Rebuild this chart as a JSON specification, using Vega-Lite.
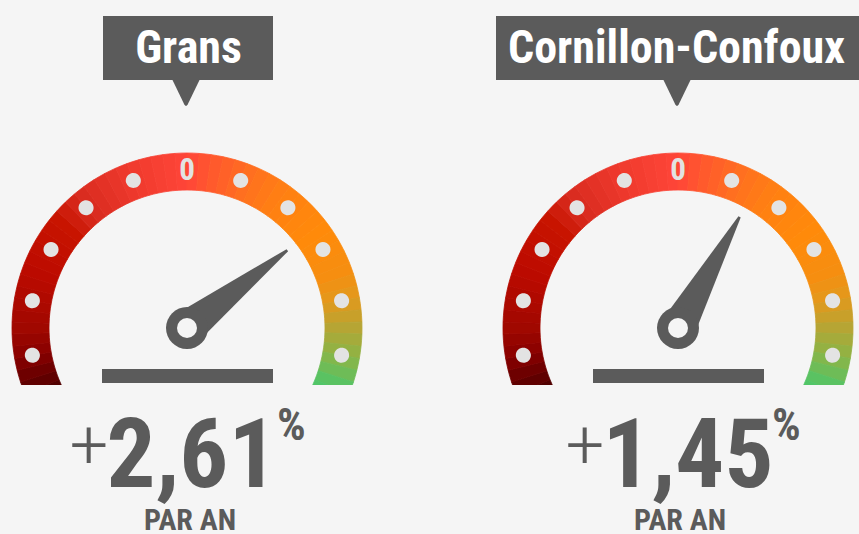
{
  "$schema": "https://vega.github.io/schema/vega-lite/v6.json",
  "padding": 0,
  "bounds": "flush",
  "background": "#f5f5f5",
  "spacing": 127,
  "datasets": {
    "gauges": [
      {"city": "Grans", "value": 2.61},
      {"city": "Cornillon-Confoux", "value": 1.45}
    ],
    "ticks": [
      {"t": -5}, {"t": -4}, {"t": -3}, {"t": -2}, {"t": -1}, {"t": 0},
      {"t": 1}, {"t": 2}, {"t": 3}, {"t": 4}, {"t": 5}
    ],
    "seg": [
      {"a": -5.8, "b": -5.6}, {"a": -5.6, "b": -5.4}, {"a": -5.4, "b": -5.2}, {"a": -5.2, "b": -5.0},
      {"a": -5.0, "b": -4.8}, {"a": -4.8, "b": -4.6}, {"a": -4.6, "b": -4.4}, {"a": -4.4, "b": -4.2},
      {"a": -4.2, "b": -4.0}, {"a": -4.0, "b": -3.8}, {"a": -3.8, "b": -3.6}, {"a": -3.6, "b": -3.4},
      {"a": -3.4, "b": -3.2}, {"a": -3.2, "b": -3.0}, {"a": -3.0, "b": -2.8}, {"a": -2.8, "b": -2.6},
      {"a": -2.6, "b": -2.4}, {"a": -2.4, "b": -2.2}, {"a": -2.2, "b": -2.0}, {"a": -2.0, "b": -1.8},
      {"a": -1.8, "b": -1.6}, {"a": -1.6, "b": -1.4}, {"a": -1.4, "b": -1.2}, {"a": -1.2, "b": -1.0},
      {"a": -1.0, "b": -0.8}, {"a": -0.8, "b": -0.6}, {"a": -0.6, "b": -0.4}, {"a": -0.4, "b": -0.2},
      {"a": -0.2, "b": 0.0}, {"a": 0.0, "b": 0.2}, {"a": 0.2, "b": 0.4}, {"a": 0.4, "b": 0.6},
      {"a": 0.6, "b": 0.8}, {"a": 0.8, "b": 1.0}, {"a": 1.0, "b": 1.2}, {"a": 1.2, "b": 1.4},
      {"a": 1.4, "b": 1.6}, {"a": 1.6, "b": 1.8}, {"a": 1.8, "b": 2.0}, {"a": 2.0, "b": 2.2},
      {"a": 2.2, "b": 2.4}, {"a": 2.4, "b": 2.6}, {"a": 2.6, "b": 2.8}, {"a": 2.8, "b": 3.0},
      {"a": 3.0, "b": 3.2}, {"a": 3.2, "b": 3.4}, {"a": 3.4, "b": 3.6}, {"a": 3.6, "b": 3.8},
      {"a": 3.8, "b": 4.0}, {"a": 4.0, "b": 4.2}, {"a": 4.2, "b": 4.4}, {"a": 4.4, "b": 4.6},
      {"a": 4.6, "b": 4.8}, {"a": 4.8, "b": 5.0}, {"a": 5.0, "b": 5.2}, {"a": 5.2, "b": 5.4},
      {"a": 5.4, "b": 5.6}, {"a": 5.6, "b": 5.8}
    ]
  },
  "hconcat": [
    {
      "width": 364, "height": 534,
      "data": {"name": "gauges"},
      "transform": [{"filter": "datum.city === 'Grans'"}],
      "layer": [
        {
          "data": {"name": "seg"},
          "mark": {"type": "arc", "outerRadius": 175, "innerRadius": 138, "strokeWidth": 0.8},
          "encoding": {
            "x": {"datum": 0, "type": "quantitative", "scale": {"domain": [-187, 177], "nice": false, "zero": false}},
            "y": {"datum": 0, "type": "quantitative", "scale": {"domain": [-328, 206], "nice": false, "zero": false, "reverse": true}},
            "theta": {"field": "a", "type": "quantitative", "stack": null, "scale": {"domain": [-9, 9], "range": [-3.14159265, 3.14159265], "nice": false, "zero": false}},
            "theta2": {"field": "b"},
            "color": {"field": "a", "type": "quantitative", "legend": null, "scale": {"domain": [-5.9, -5.5, -5.1, -4.6, -3.6, -2.6, -2.1, -1.1, -0.1, 0.4, 0.9, 1.7, 2.6, 3.4, 3.9, 4.4, 4.9, 5.4, 5.8], "range": ["#4a0000", "#660000", "#880000", "#a00800", "#bb0a00", "#c81400", "#d82a1e", "#ef3a2d", "#ff4538", "#ff5a2c", "#ff6c22", "#ff8012", "#ff8a0a", "#f68e10", "#e2991c", "#b6a534", "#8cb446", "#5ac262", "#48c86c"], "interpolate": "rgb"}},
            "stroke": {"field": "a", "type": "quantitative", "legend": null, "scale": {"domain": [-5.9, -5.5, -5.1, -4.6, -3.6, -2.6, -2.1, -1.1, -0.1, 0.4, 0.9, 1.7, 2.6, 3.4, 3.9, 4.4, 4.9, 5.4, 5.8], "range": ["#4a0000", "#660000", "#880000", "#a00800", "#bb0a00", "#c81400", "#d82a1e", "#ef3a2d", "#ff4538", "#ff5a2c", "#ff6c22", "#ff8012", "#ff8a0a", "#f68e10", "#e2991c", "#b6a534", "#8cb446", "#5ac262", "#48c86c"], "interpolate": "rgb"}}
          }
        },
        {
          "mark": {"type": "rect", "color": "#f5f5f5"},
          "encoding": {
            "x": {"datum": -180, "type": "quantitative"}, "x2": {"datum": 180},
            "y": {"datum": 57, "type": "quantitative"}, "y2": {"datum": 80}
          }
        },
        {
          "data": {"name": "ticks"},
          "transform": [{"filter": "datum.t !== 0"}],
          "mark": {"type": "point", "filled": true, "opacity": 1, "color": "#e3e3e3", "size": 98596,
                   "shape": "M -0.048 -1 A 0.048 0.048 0 1 0 0.048 -1 A 0.048 0.048 0 1 0 -0.048 -1 Z"},
          "encoding": {
            "x": {"datum": 0, "type": "quantitative"},
            "y": {"datum": 0, "type": "quantitative"},
            "angle": {"field": "t", "type": "quantitative", "legend": null, "scale": {"domain": [-9, 9], "range": [-180, 180], "zero": false, "nice": false}}
          }
        },
        {
          "data": {"name": "ticks"},
          "transform": [{"filter": "datum.t === 0"}],
          "mark": {"type": "text", "radius": 157, "fontSize": 31, "fontWeight": "bold", "color": "#e2e2e2", "align": "center", "baseline": "middle",
                   "font": "Roboto Condensed, Roboto, sans-serif"},
          "encoding": {
            "x": {"datum": 0, "type": "quantitative"},
            "y": {"datum": 0, "type": "quantitative"},
            "theta": {"field": "t", "type": "quantitative", "stack": null},
            "text": {"field": "t", "type": "quantitative"}
          }
        },
        {
          "mark": {"type": "rect", "color": "#5b5b5b"},
          "encoding": {
            "x": {"datum": -85, "type": "quantitative"}, "x2": {"datum": 86},
            "y": {"datum": 41, "type": "quantitative"}, "y2": {"datum": 55}
          }
        },
        {
          "mark": {"type": "rect", "color": "#5b5b5b"},
          "encoding": {
            "x": {"datum": -84, "type": "quantitative"}, "x2": {"datum": 86},
            "y": {"datum": -312, "type": "quantitative"}, "y2": {"datum": -248}
          }
        },
        {
          "mark": {"type": "point", "filled": true, "opacity": 1, "color": "#5b5b5b", "size": 784,
                   "shape": "M -1 -1 L 1 -1 L 0.12 0.82 Q 0 1.02 -0.12 0.82 Z"},
          "encoding": {
            "x": {"datum": -1, "type": "quantitative"},
            "y": {"datum": -235, "type": "quantitative"}
          }
        },
        {
          "mark": {"type": "text", "fontSize": 46, "fontWeight": "bold", "color": "#ffffff", "align": "center", "baseline": "alphabetic",
                   "font": "Roboto Condensed, Roboto, sans-serif"},
          "encoding": {
            "x": {"datum": 1.5, "type": "quantitative"},
            "y": {"datum": -265, "type": "quantitative"},
            "text": {"field": "city", "type": "nominal"}
          }
        },
        {
          "mark": {"type": "point", "filled": true, "opacity": 1, "color": "#5b5b5b", "size": 64516,
                   "shape": "M -0.14 0 L -0.01 -1 L 0.01 -1 L 0.14 0 Z"},
          "encoding": {
            "x": {"datum": 0, "type": "quantitative"},
            "y": {"datum": 0, "type": "quantitative"},
            "angle": {"field": "value", "type": "quantitative", "legend": null}
          }
        },
        {
          "mark": {"type": "point", "filled": true, "opacity": 1, "color": "#5b5b5b", "size": 1764, "shape": "circle"},
          "encoding": {"x": {"datum": 0, "type": "quantitative"}, "y": {"datum": 0, "type": "quantitative"}}
        },
        {
          "mark": {"type": "point", "filled": true, "opacity": 1, "color": "#f5f5f5", "size": 400, "shape": "circle"},
          "encoding": {"x": {"datum": 0, "type": "quantitative"}, "y": {"datum": 0, "type": "quantitative"}}
        },
        {
          "mark": {"type": "text", "text": "+", "fontSize": 68, "fontWeight": 300, "color": "#5b5b5b", "align": "center", "baseline": "alphabetic",
                   "font": "Roboto, sans-serif"},
          "encoding": {"x": {"datum": -98, "type": "quantitative"}, "y": {"datum": 140, "type": "quantitative"}}
        },
        {
          "mark": {"type": "text", "fontSize": 97, "fontWeight": "bold", "color": "#5b5b5b", "align": "center", "baseline": "alphabetic",
                   "font": "Roboto Condensed, Roboto, sans-serif"},
          "encoding": {
            "x": {"datum": 5, "type": "quantitative"}, "y": {"datum": 159, "type": "quantitative"},
            "text": {"field": "value", "type": "quantitative", "format": ".2f"}
          }
        },
        {
          "mark": {"type": "text", "text": "%", "fontSize": 45, "fontWeight": "bold", "color": "#5b5b5b", "align": "left", "baseline": "alphabetic",
                   "font": "Roboto Condensed, Roboto, sans-serif"},
          "encoding": {"x": {"datum": 90, "type": "quantitative"}, "y": {"datum": 112, "type": "quantitative"}}
        },
        {
          "mark": {"type": "text", "text": "PAR AN", "fontSize": 30, "fontWeight": "bold", "color": "#5b5b5b", "align": "center", "baseline": "alphabetic",
                   "font": "Roboto Condensed, Roboto, sans-serif"},
          "encoding": {"x": {"datum": 3, "type": "quantitative"}, "y": {"datum": 202, "type": "quantitative"}}
        }
      ]
    },
    {
      "width": 364, "height": 534,
      "data": {"name": "gauges"},
      "transform": [{"filter": "datum.city === 'Cornillon-Confoux'"}],
      "layer": [
        {
          "data": {"name": "seg"},
          "mark": {"type": "arc", "outerRadius": 175, "innerRadius": 138, "strokeWidth": 0.8},
          "encoding": {
            "x": {"datum": 0, "type": "quantitative", "scale": {"domain": [-187, 177], "nice": false, "zero": false}},
            "y": {"datum": 0, "type": "quantitative", "scale": {"domain": [-328, 206], "nice": false, "zero": false, "reverse": true}},
            "theta": {"field": "a", "type": "quantitative", "stack": null, "scale": {"domain": [-9, 9], "range": [-3.14159265, 3.14159265], "nice": false, "zero": false}},
            "theta2": {"field": "b"},
            "color": {"field": "a", "type": "quantitative", "legend": null, "scale": {"domain": [-5.9, -5.5, -5.1, -4.6, -3.6, -2.6, -2.1, -1.1, -0.1, 0.4, 0.9, 1.7, 2.6, 3.4, 3.9, 4.4, 4.9, 5.4, 5.8], "range": ["#4a0000", "#660000", "#880000", "#a00800", "#bb0a00", "#c81400", "#d82a1e", "#ef3a2d", "#ff4538", "#ff5a2c", "#ff6c22", "#ff8012", "#ff8a0a", "#f68e10", "#e2991c", "#b6a534", "#8cb446", "#5ac262", "#48c86c"], "interpolate": "rgb"}},
            "stroke": {"field": "a", "type": "quantitative", "legend": null, "scale": {"domain": [-5.9, -5.5, -5.1, -4.6, -3.6, -2.6, -2.1, -1.1, -0.1, 0.4, 0.9, 1.7, 2.6, 3.4, 3.9, 4.4, 4.9, 5.4, 5.8], "range": ["#4a0000", "#660000", "#880000", "#a00800", "#bb0a00", "#c81400", "#d82a1e", "#ef3a2d", "#ff4538", "#ff5a2c", "#ff6c22", "#ff8012", "#ff8a0a", "#f68e10", "#e2991c", "#b6a534", "#8cb446", "#5ac262", "#48c86c"], "interpolate": "rgb"}}
          }
        },
        {
          "mark": {"type": "rect", "color": "#f5f5f5"},
          "encoding": {
            "x": {"datum": -180, "type": "quantitative"}, "x2": {"datum": 180},
            "y": {"datum": 57, "type": "quantitative"}, "y2": {"datum": 80}
          }
        },
        {
          "data": {"name": "ticks"},
          "transform": [{"filter": "datum.t !== 0"}],
          "mark": {"type": "point", "filled": true, "opacity": 1, "color": "#e3e3e3", "size": 98596,
                   "shape": "M -0.048 -1 A 0.048 0.048 0 1 0 0.048 -1 A 0.048 0.048 0 1 0 -0.048 -1 Z"},
          "encoding": {
            "x": {"datum": 0, "type": "quantitative"},
            "y": {"datum": 0, "type": "quantitative"},
            "angle": {"field": "t", "type": "quantitative", "legend": null, "scale": {"domain": [-9, 9], "range": [-180, 180], "zero": false, "nice": false}}
          }
        },
        {
          "data": {"name": "ticks"},
          "transform": [{"filter": "datum.t === 0"}],
          "mark": {"type": "text", "radius": 157, "fontSize": 31, "fontWeight": "bold", "color": "#e2e2e2", "align": "center", "baseline": "middle",
                   "font": "Roboto Condensed, Roboto, sans-serif"},
          "encoding": {
            "x": {"datum": 0, "type": "quantitative"},
            "y": {"datum": 0, "type": "quantitative"},
            "theta": {"field": "t", "type": "quantitative", "stack": null},
            "text": {"field": "t", "type": "quantitative"}
          }
        },
        {
          "mark": {"type": "rect", "color": "#5b5b5b"},
          "encoding": {
            "x": {"datum": -85, "type": "quantitative"}, "x2": {"datum": 86},
            "y": {"datum": 41, "type": "quantitative"}, "y2": {"datum": 55}
          }
        },
        {
          "mark": {"type": "rect", "color": "#5b5b5b"},
          "encoding": {
            "x": {"datum": -182, "type": "quantitative"}, "x2": {"datum": 182},
            "y": {"datum": -312, "type": "quantitative"}, "y2": {"datum": -248}
          }
        },
        {
          "mark": {"type": "point", "filled": true, "opacity": 1, "color": "#5b5b5b", "size": 784,
                   "shape": "M -1 -1 L 1 -1 L 0.12 0.82 Q 0 1.02 -0.12 0.82 Z"},
          "encoding": {
            "x": {"datum": -1, "type": "quantitative"},
            "y": {"datum": -235, "type": "quantitative"}
          }
        },
        {
          "mark": {"type": "text", "fontSize": 46, "fontWeight": "bold", "color": "#ffffff", "align": "center", "baseline": "alphabetic",
                   "font": "Roboto Condensed, Roboto, sans-serif"},
          "encoding": {
            "x": {"datum": -1.5, "type": "quantitative"},
            "y": {"datum": -265, "type": "quantitative"},
            "text": {"field": "city", "type": "nominal"}
          }
        },
        {
          "mark": {"type": "point", "filled": true, "opacity": 1, "color": "#5b5b5b", "size": 64516,
                   "shape": "M -0.14 0 L -0.01 -1 L 0.01 -1 L 0.14 0 Z"},
          "encoding": {
            "x": {"datum": 0, "type": "quantitative"},
            "y": {"datum": 0, "type": "quantitative"},
            "angle": {"field": "value", "type": "quantitative", "legend": null}
          }
        },
        {
          "mark": {"type": "point", "filled": true, "opacity": 1, "color": "#5b5b5b", "size": 1764, "shape": "circle"},
          "encoding": {"x": {"datum": 0, "type": "quantitative"}, "y": {"datum": 0, "type": "quantitative"}}
        },
        {
          "mark": {"type": "point", "filled": true, "opacity": 1, "color": "#f5f5f5", "size": 400, "shape": "circle"},
          "encoding": {"x": {"datum": 0, "type": "quantitative"}, "y": {"datum": 0, "type": "quantitative"}}
        },
        {
          "mark": {"type": "text", "text": "+", "fontSize": 68, "fontWeight": 300, "color": "#5b5b5b", "align": "center", "baseline": "alphabetic",
                   "font": "Roboto, sans-serif"},
          "encoding": {"x": {"datum": -93, "type": "quantitative"}, "y": {"datum": 140, "type": "quantitative"}}
        },
        {
          "mark": {"type": "text", "fontSize": 97, "fontWeight": "bold", "color": "#5b5b5b", "align": "center", "baseline": "alphabetic",
                   "font": "Roboto Condensed, Roboto, sans-serif"},
          "encoding": {
            "x": {"datum": 10, "type": "quantitative"}, "y": {"datum": 159, "type": "quantitative"},
            "text": {"field": "value", "type": "quantitative", "format": ".2f"}
          }
        },
        {
          "mark": {"type": "text", "text": "%", "fontSize": 45, "fontWeight": "bold", "color": "#5b5b5b", "align": "left", "baseline": "alphabetic",
                   "font": "Roboto Condensed, Roboto, sans-serif"},
          "encoding": {"x": {"datum": 94, "type": "quantitative"}, "y": {"datum": 112, "type": "quantitative"}}
        },
        {
          "mark": {"type": "text", "text": "PAR AN", "fontSize": 30, "fontWeight": "bold", "color": "#5b5b5b", "align": "center", "baseline": "alphabetic",
                   "font": "Roboto Condensed, Roboto, sans-serif"},
          "encoding": {"x": {"datum": 2, "type": "quantitative"}, "y": {"datum": 202, "type": "quantitative"}}
        }
      ]
    }
  ],
  "config": {
    "view": {"stroke": null},
    "axis": {"disable": true},
    "legend": {"disable": true},
    "locale": {"number": {"decimal": ",", "thousands": "\u00a0", "grouping": [3], "currency": ["", "\u00a0€"]}}
  }
}
